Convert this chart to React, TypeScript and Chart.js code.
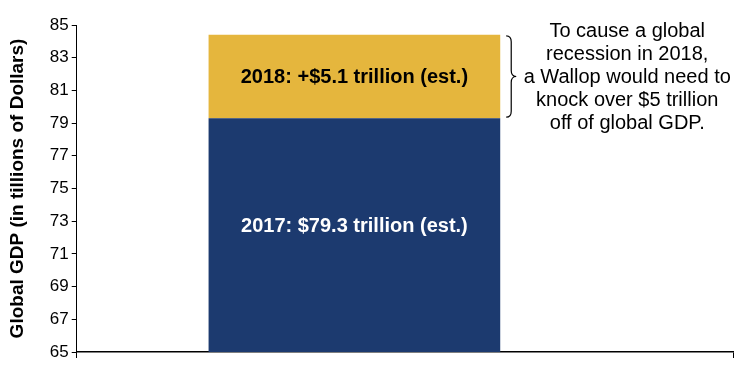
import React, { useEffect, useRef } from "react";
import { Chart, registerables } from "chart.js";
Chart.register(...registerables);

const categories = ["Global GDP"];
const categoryIndex = [0];
const gdp2017 = [79.3];
const growth2018 = [5.1];
const barLabels2017 = ["2017: $79.3 trillion (est.)"];
const barLabels2018 = ["2018: +$5.1 trillion (est.)"];
const yMin = 65;
const yMax = 85;
const yStep = 2;
const xMin = -0.5;
const xMax = 0.6817;
const yTitle = "Global GDP (in tillions of Dollars)";
const annotationLines = [
  "To cause a global",
  "recession in 2018,",
  "a Wallop would need to",
  "knock over $5 trillion",
  "off of global GDP.",
];

const NAVY = "#1C3A6F";
const GOLD = "#E5B63D";
const FONT = "'Liberation Sans', Arial, sans-serif";

const labelPlugin = {
  id: "barLabels",
  afterDatasetsDraw(chart: any) {
    const ctx = chart.ctx;
    const area = chart.chartArea;
    const sets = [
      { labels: barLabels2017, color: "#FFFFFF", dy: -9 },
      { labels: barLabels2018, color: "#000000", dy: 1 },
    ];
    sets.forEach((s, di) => {
      const meta = chart.getDatasetMeta(di);
      meta.data.forEach((el: any, i: number) => {
        const p = el.getProps(["x", "y", "base"], true);
        const top = Math.max(Math.min(p.y, p.base), area.top);
        const bottom = Math.min(Math.max(p.y, p.base), area.bottom);
        ctx.save();
        ctx.font = `bold 20px ${FONT}`;
        ctx.fillStyle = s.color;
        ctx.textAlign = "center";
        ctx.textBaseline = "middle";
        ctx.fillText(s.labels[i], p.x, (top + bottom) / 2 + s.dy);
        ctx.restore();
      });
    });
  },
};

const annotationPlugin = {
  id: "annotation",
  afterDraw(chart: any) {
    const ctx = chart.ctx;
    const meta = chart.getDatasetMeta(1);
    const el: any = meta.data[0];
    if (!el) return;
    const p = el.getProps(["x", "y", "base", "width"], true);
    const top = p.y + 1;
    const bottom = p.base - 1;
    const mid = (top + bottom) / 2;
    const x0 = p.x + p.width / 2 + 6;
    const w = 10;
    const r = 6;
    ctx.save();
    ctx.strokeStyle = "#000";
    ctx.lineWidth = 1.2;
    ctx.beginPath();
    ctx.moveTo(x0, top);
    ctx.quadraticCurveTo(x0 + w / 2, top, x0 + w / 2, top + r);
    ctx.lineTo(x0 + w / 2, mid - r);
    ctx.quadraticCurveTo(x0 + w / 2, mid, x0 + w, mid);
    ctx.quadraticCurveTo(x0 + w / 2, mid, x0 + w / 2, mid + r);
    ctx.lineTo(x0 + w / 2, bottom - r);
    ctx.quadraticCurveTo(x0 + w / 2, bottom, x0, bottom);
    ctx.stroke();
    ctx.font = `20px ${FONT}`;
    ctx.fillStyle = "#000";
    ctx.textAlign = "center";
    ctx.textBaseline = "middle";
    const tx = x0 + w + 111;
    const lh = 23;
    annotationLines.forEach((line, i) => {
      ctx.fillText(line, tx, mid + 1 + (i - 2) * lh);
    });
    ctx.restore();
  },
};

export default function App() {
  const ref = useRef<HTMLCanvasElement>(null);
  useEffect(() => {
    document.body.style.margin = "0";
    const chart = new Chart(ref.current!, {
      type: "bar",
      data: {
        labels: categories,
        datasets: [
          {
            label: "2017",
            data: categoryIndex.map((x, i) => ({ x, y: gdp2017[i] })),
            backgroundColor: NAVY,
            borderWidth: 0,
            barPercentage: 0.4444,
            categoryPercentage: 1,
          },
          {
            label: "2018",
            data: categoryIndex.map((x, i) => ({ x, y: growth2018[i] })),
            backgroundColor: GOLD,
            borderWidth: 0,
            barPercentage: 0.4444,
            categoryPercentage: 1,
          },
        ],
      },
      options: {
        animation: false,
        responsive: false,
        maintainAspectRatio: false,
        layout: { padding: { top: 25, right: 17, bottom: 31, left: 6 } },
        plugins: { legend: { display: false }, tooltip: { enabled: false } },
        scales: {
          x: {
            type: "linear",
            stacked: true,
            offset: false,
            min: xMin,
            max: xMax,
            ticks: { display: false, count: 2 },
            grid: { offset: false, drawOnChartArea: false, drawTicks: true, tickLength: 6, color: "#000" },
            border: { display: true, color: "#000", width: 1.5 },
          },
          y: {
            stacked: true,
            min: yMin,
            max: yMax,
            ticks: {
              stepSize: yStep,
              color: "#000",
              font: { family: FONT, size: 17 },
              padding: 3,
            },
            grid: { drawOnChartArea: false, drawTicks: true, tickLength: 5, color: "#000" },
            border: { display: true, color: "#000", width: 1 },
            title: {
              display: true,
              text: yTitle,
              color: "#000",
              font: { family: FONT, size: 19, weight: "bold" },
              padding: { top: 0, bottom: 18 },
            },
          },
        },
      } as any,
      plugins: [labelPlugin, annotationPlugin],
    });
    return () => chart.destroy();
  }, []);
  return <canvas ref={ref} width={750} height={389} style={{ display: "block" }} />;
}
